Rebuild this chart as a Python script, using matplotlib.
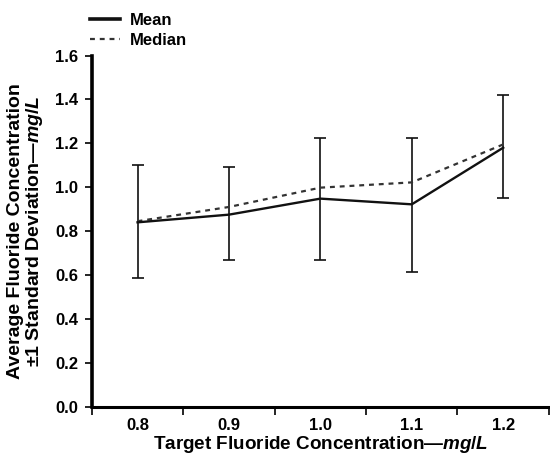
import matplotlib

matplotlib.use("Agg")

import matplotlib.pyplot as plt
import numpy as np

CATEGORIES = ["0.8", "0.9", "1.0", "1.1", "1.2"]
MEAN = [0.84, 0.875, 0.948, 0.922, 1.18]
MEDIAN = [0.845, 0.91, 0.998, 1.022, 1.195]
SD_LOW = [0.588, 0.67, 0.67, 0.615, 0.95]
SD_HIGH = [1.10, 1.09, 1.223, 1.223, 1.418]
Y_TICKS = [0.0, 0.2, 0.4, 0.6, 0.8, 1.0, 1.2, 1.4, 1.6]

plt.rcParams.update(
    {
        "font.family": ["Liberation Sans", "DejaVu Sans"],
        "font.weight": "bold",
        "axes.labelweight": "bold",
        "font.size": 11.5,
        "mathtext.fontset": "custom",
        "mathtext.it": "Liberation Sans:italic:bold",
        "mathtext.rm": "Liberation Sans:bold",
    }
)

fig = plt.figure(figsize=(5.5, 4.59), dpi=100)
ax = fig.add_axes([0.167, 0.114, 0.831, 0.765])

x = np.arange(len(CATEGORIES))
mean = np.array(MEAN)
yerr = np.array([mean - np.array(SD_LOW), np.array(SD_HIGH) - mean])

ax.errorbar(x, mean, yerr=yerr, fmt="none", ecolor="#111111", elinewidth=1.2,
            capsize=4, capthick=1.2, zorder=2)
ax.plot(x, MEDIAN, color="#333333", lw=1.6, ls=(0, (2.2, 2.2)), label="Median", zorder=3)
ax.plot(x, MEAN, color="#111111", lw=1.7, label="Mean", zorder=4)

ax.set_xlim(-0.5, len(CATEGORIES) - 0.5)
ax.set_ylim(0, 1.6)
ax.set_xticks(x)
ax.set_xticklabels(CATEGORIES, fontsize=12)
ax.set_xticks(np.arange(-0.5, len(CATEGORIES)), minor=True)
ax.tick_params(axis="x", which="major", length=0, pad=8)
ax.tick_params(axis="x", which="minor", length=6, width=1.2, direction="out")
ax.set_yticks(Y_TICKS)
ax.set_yticklabels(["%.1f" % v for v in Y_TICKS], fontsize=12)
ax.tick_params(axis="y", length=5, width=1.2, direction="out", pad=5)

for s in ["top", "right"]:
    ax.spines[s].set_visible(False)
ax.spines["left"].set_linewidth(2.6)
ax.spines["bottom"].set_linewidth(2.2)

ax.set_xlabel(r"Target Fluoride Concentration—$\mathit{mg/L}$", fontsize=13.6, labelpad=1)
ax.set_ylabel("Average Fluoride Concentration\n" + r"±1 Standard Deviation—$\mathit{mg/L}$",
              fontsize=14.0, linespacing=1.0)
ax.yaxis.set_label_coords(-0.103, 0.5)

handles, labels = ax.get_legend_handles_labels()
order = [1, 0]
leg = ax.legend([handles[i] for i in order], [labels[i] for i in order],
                loc="upper left", bbox_to_anchor=(0.163, 0.972), bbox_transform=fig.transFigure,
                frameon=False, handlelength=1.8, handletextpad=0.6, labelspacing=0.3,
                borderaxespad=0, borderpad=0, fontsize=12)
leg.get_lines()[0].set_linewidth(2.6)

fig.savefig("out.png", dpi=100)
